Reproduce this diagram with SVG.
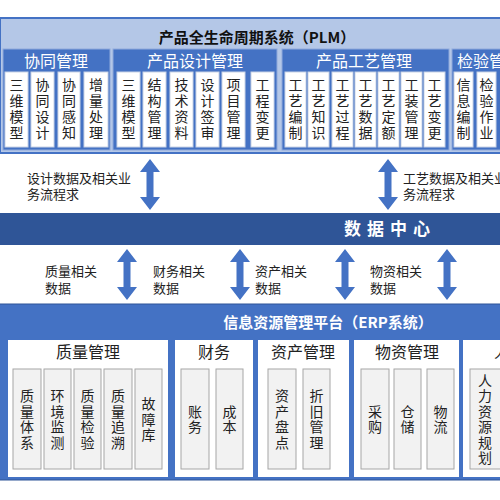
<svg xmlns="http://www.w3.org/2000/svg" width="500" height="500" viewBox="0 0 500 500">
<style>
text{font-family:"Noto Sans CJK SC","Liberation Sans",sans-serif;}
.ttl{font-size:15px;font-weight:bold;fill:#111;text-anchor:middle;}
.pt{font-size:16px;fill:#fff;text-anchor:middle;}
.pts{font-size:16px;fill:#fff;text-anchor:start;}
.ib{fill:#fff;stroke:#c9d3e6;stroke-width:1;}
.v{font-size:14px;fill:#222;writing-mode:vertical-rl;text-anchor:middle;letter-spacing:2px;}
.ve{font-size:14px;fill:#222;writing-mode:vertical-rl;text-anchor:middle;letter-spacing:1.5px;}
.lb{font-size:13px;fill:#222;}
.gb{fill:#f2f2f2;stroke:#a6a6a6;stroke-width:1;}
.et{font-size:16px;fill:#222;text-anchor:middle;}
.ets{font-size:16px;fill:#222;text-anchor:start;}
.arr{fill:#4472c4;}
</style>
<defs>
<path id="dar" d="M0,0 L10,13 L3.5,13 L3.5,38 L10,38 L0,51 L-10,38 L-3.5,38 L-3.5,13 L-10,13 Z"/>
</defs>
<rect width="500" height="500" fill="#fff"/>

<g id="plm">
<rect x="0" y="18" width="502" height="135" fill="#b4c7e7" stroke="#4472c4" stroke-width="2"/>
<text class="ttl" x="257" y="43">产品全生命周期系统（PLM）</text>
</g>

<g id="xtgl">
<rect x="3" y="49" width="107" height="101" fill="#4472c4" stroke="#8faadc" stroke-width="1"/>
<text class="pt" x="56" y="67">协同管理</text>
<rect class="ib" x="5" y="72" width="23" height="75"/>
<text class="v" x="16.5" y="110">三维模型</text>
<rect class="ib" x="31" y="72" width="23" height="75"/>
<text class="v" x="42.5" y="110">协同设计</text>
<rect class="ib" x="58" y="72" width="22" height="75"/>
<text class="v" x="69" y="110">协同感知</text>
<rect class="ib" x="84" y="72" width="24" height="75"/>
<text class="v" x="96" y="110">增量处理</text>
</g>

<g id="cpsj">
<rect x="113" y="49" width="164" height="101" fill="#4472c4" stroke="#8faadc" stroke-width="1"/>
<text class="pt" x="195" y="67">产品设计管理</text>
<rect class="ib" x="117" y="72" width="23" height="75"/>
<text class="v" x="128.5" y="110">三维模型</text>
<rect class="ib" x="143" y="72" width="23" height="75"/>
<text class="v" x="154.5" y="110">结构管理</text>
<rect class="ib" x="170" y="72" width="23" height="75"/>
<text class="v" x="181.5" y="110">技术资料</text>
<rect class="ib" x="196" y="72" width="23" height="75"/>
<text class="v" x="207.5" y="110">设计签审</text>
<rect class="ib" x="222" y="72" width="23" height="75"/>
<text class="v" x="233.5" y="110">项目管理</text>
<rect class="ib" x="251" y="72" width="23" height="75"/>
<text class="v" x="262.5" y="110">工程变更</text>
</g>

<g id="cpgy">
<rect x="282" y="49" width="167" height="101" fill="#4472c4" stroke="#8faadc" stroke-width="1"/>
<text class="pt" x="364" y="67">产品工艺管理</text>
<rect class="ib" x="285" y="72" width="21" height="75"/>
<text class="v" x="295.5" y="110">工艺编制</text>
<rect class="ib" x="308" y="72" width="21" height="75"/>
<text class="v" x="318.5" y="110">工艺知识</text>
<rect class="ib" x="332" y="72" width="21" height="75"/>
<text class="v" x="342.5" y="110">工艺过程</text>
<rect class="ib" x="355" y="72" width="21" height="75"/>
<text class="v" x="365.5" y="110">工艺数据</text>
<rect class="ib" x="378" y="72" width="21" height="75"/>
<text class="v" x="388.5" y="110">工艺定额</text>
<rect class="ib" x="401" y="72" width="21" height="75"/>
<text class="v" x="411.5" y="110">工装管理</text>
<rect class="ib" x="424" y="72" width="21" height="75"/>
<text class="v" x="434.5" y="110">工艺变更</text>
</g>

<g id="jygl">
<rect x="452" y="49" width="52" height="101" fill="#4472c4" stroke="#8faadc" stroke-width="1"/>
<text class="pts" x="457" y="67">检验管理</text>
<rect class="ib" x="454" y="72" width="19" height="75"/>
<text class="v" x="463.5" y="110">信息编制</text>
<rect class="ib" x="477" y="72" width="19" height="75"/>
<text class="v" x="486.5" y="110">检验作业</text>
</g>

<g id="sjzx">
<rect x="0" y="213" width="500" height="32" fill="#2f5597"/>
<text x="390" y="235" text-anchor="middle" font-size="17" font-weight="bold" fill="#fff" letter-spacing="6">数据中心</text>
</g>

<g id="erp">
<rect x="-2" y="304" width="504" height="176" fill="#4472c4" stroke="#2f5597" stroke-width="1"/>
<text x="328" y="328" text-anchor="middle" font-size="15" font-weight="bold" fill="#fff">信息资源管理平台（ERP系统）</text>
</g>

<g id="zlgl">
<rect x="8" y="340" width="160" height="137" fill="#fff"/>
<text class="et" x="88" y="358">质量管理</text>
<rect class="gb" x="13" y="369" width="28" height="100"/>
<text class="ve" x="27" y="420">质量体系</text>
<rect class="gb" x="44" y="369" width="27" height="100"/>
<text class="ve" x="57.5" y="420">环境监测</text>
<rect class="gb" x="74" y="369" width="27" height="100"/>
<text class="ve" x="87.5" y="420">质量检验</text>
<rect class="gb" x="104" y="369" width="28" height="100"/>
<text class="ve" x="118" y="420">质量追溯</text>
<rect class="gb" x="135" y="369" width="27" height="100"/>
<text class="ve" x="148.5" y="420">故障库</text>
</g>

<g id="cw">
<rect x="175" y="340" width="78" height="137" fill="#fff"/>
<text class="et" x="214" y="358">财务</text>
<rect class="gb" x="181" y="369" width="28" height="100"/>
<text class="ve" x="195" y="420">账务</text>
<rect class="gb" x="216" y="369" width="27" height="100"/>
<text class="ve" x="229.5" y="420">成本</text>
</g>

<g id="zcgl">
<rect x="258" y="340" width="91" height="137" fill="#fff"/>
<text class="et" x="303" y="358">资产管理</text>
<rect class="gb" x="268" y="369" width="28" height="100"/>
<text class="ve" x="282" y="420">资产盘点</text>
<rect class="gb" x="303" y="369" width="27" height="100"/>
<text class="ve" x="316.5" y="420">折旧管理</text>
</g>

<g id="wzgl">
<rect x="354" y="340" width="105" height="137" fill="#fff"/>
<text class="et" x="407" y="358">物资管理</text>
<rect class="gb" x="361" y="369" width="28" height="100"/>
<text class="ve" x="375" y="420">采购</text>
<rect class="gb" x="394" y="369" width="27" height="100"/>
<text class="ve" x="407.5" y="420">仓储</text>
<rect class="gb" x="427" y="369" width="27" height="100"/>
<text class="ve" x="440.5" y="420">物流</text>
</g>

<g id="rlzy">
<rect x="463" y="340" width="40" height="137" fill="#fff"/>
<text class="ets" x="494" y="358">人力资源管理</text>
<rect class="gb" x="470" y="369" width="32" height="100"/>
<text class="ve" x="485" y="420">人力资源规划</text>
</g>

<g id="connectors">
<use href="#dar" class="arr" x="150" y="159"/>
<use href="#dar" class="arr" x="388" y="159"/>
<use href="#dar" class="arr" x="127" y="249"/>
<use href="#dar" class="arr" x="240" y="249"/>
<use href="#dar" class="arr" x="345" y="249"/>
<use href="#dar" class="arr" x="447" y="249"/>
<text class="lb"><tspan x="27" y="183">设计数据及相关业</tspan><tspan x="27" y="199">务流程求</tspan></text>
<text class="lb"><tspan x="403" y="183">工艺数据及相关业</tspan><tspan x="403" y="199">务流程求</tspan></text>
<text class="lb"><tspan x="45" y="276">质量相关</tspan><tspan x="45" y="293">数据</tspan></text>
<text class="lb"><tspan x="153" y="276">财务相关</tspan><tspan x="153" y="293">数据</tspan></text>
<text class="lb"><tspan x="255" y="276">资产相关</tspan><tspan x="255" y="293">数据</tspan></text>
<text class="lb"><tspan x="370" y="276">物资相关</tspan><tspan x="370" y="293">数据</tspan></text>
</g>
</svg>
